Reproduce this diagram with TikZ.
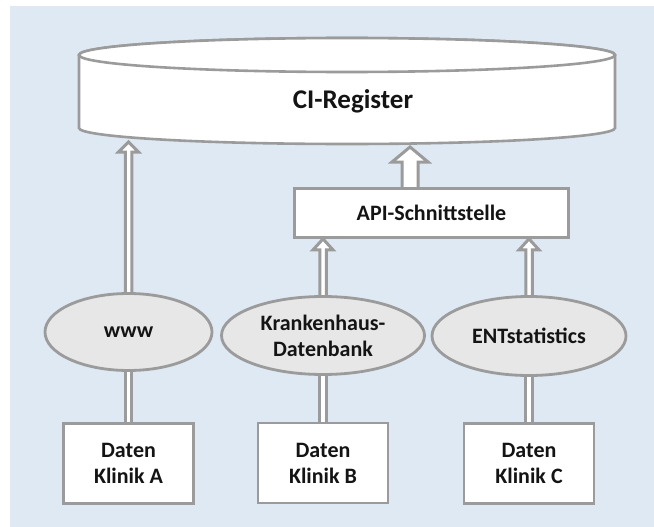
\documentclass[tikz,border=0pt]{standalone}
\usepackage{fontspec}
\setmainfont{Carlito}
\usetikzlibrary{shapes.geometric,calc}
\definecolor{bgblue}{RGB}{222,233,243}
\definecolor{lgray}{RGB}{155,155,155}
\definecolor{efill}{RGB}{231,231,231}
\definecolor{txtcol}{RGB}{20,20,20}
\pgfdeclarelayer{back}
\pgfdeclarelayer{conn}
\pgfsetlayers{back,conn,main}
% hollow block arrow: #1 source, #2 target (y only), #3 half shaft, #4 half head, #5 head length
\newcommand\myhollowarrow[5]{%
  \filldraw[arrline] let \p1=(#1), \p2=(#2) in
   (\x1-#3,\y1) -- (\x1-#3,\y2-#5) -- (\x1-#4,\y2-#5) -- (\x1,\y2)
   -- (\x1+#4,\y2-#5) -- (\x1+#3,\y2-#5) -- (\x1+#3,\y1);}
\begin{document}
\begin{tikzpicture}[x=1pt,y=1pt,
  txt/.style={font=\bfseries\fontsize{22}{26}\selectfont, text=txtcol, align=center},
  boxnode/.style={txt, draw=lgray, line width=2.8pt, fill=white, minimum width=130pt, minimum height=80pt, inner sep=0pt},
  ellnode/.style={txt, ellipse, draw=lgray, line width=2.8pt, fill=efill, inner sep=0pt},
  shaft/.style={draw=lgray, line width=3pt, double=white, double distance=3.5pt},
  arrline/.style={draw=lgray, fill=white, line width=3pt, line join=miter},
  cyl/.style={draw=lgray, fill=white, line width=2.6pt}]
\useasboundingbox (0,0) rectangle (654,-527);
\begin{pgfonlayer}{back}
\fill[bgblue] (10,-6) rectangle (654,-527);
\end{pgfonlayer}

% cylinder (CI-Register)
\filldraw[cyl] (79,-55) -- (79,-128) arc[start angle=180,end angle=360,x radius=268,y radius=16]
  -- (615,-55) arc[start angle=0,end angle=180,x radius=268,y radius=17] -- cycle;
\draw[cyl] (347,-55) ellipse[x radius=268,y radius=17];
\node[txt, font=\bfseries\fontsize{27}{31}\selectfont] (reg) at (353,-101) {CI-Register};
\coordinate (regA) at (128.5,-142);
\coordinate (regB) at (410,-147);

% nodes
\node[boxnode, minimum width=274pt, minimum height=49pt] (api) at (431.5,-213) {API-Schnittstelle};
\coordinate (apiout) at ($(api.north west)!0.4224!(api.north east)$);

\node[ellnode, minimum width=167pt, minimum height=77pt] (www) at (128.5,-332) {www};
\node[ellnode, minimum width=203pt, minimum height=78pt] (kdb) at (323,-335.5) {Krankenhaus-\\Datenbank};
\node[ellnode, minimum width=194pt, minimum height=79pt] (ent) at (529,-336) {ENTstatistics};

\node[boxnode] (boxA) at (128.5,-463.5) {Daten\\Klinik A};
\node[boxnode] (boxB) at (323,-463) {Daten\\Klinik B};
\node[boxnode] (boxC) at (529,-463.5) {Daten\\Klinik C};

% connectors
\begin{pgfonlayer}{conn}
\draw[shaft] (boxA.north) -- (www.south);
\draw[shaft] (boxB.north) -- (kdb.south);
\draw[shaft] (boxC.north) -- (ent.south);
\myhollowarrow{www.north}{regA}{3.25pt}{10pt}{10pt}
\myhollowarrow{kdb.north}{api.south}{3.25pt}{10pt}{11pt}
\myhollowarrow{ent.north}{api.south}{3.25pt}{10pt}{11pt}
\myhollowarrow{apiout}{regB}{8pt}{18pt}{15pt}
\end{pgfonlayer}
\end{tikzpicture}
\end{document}
